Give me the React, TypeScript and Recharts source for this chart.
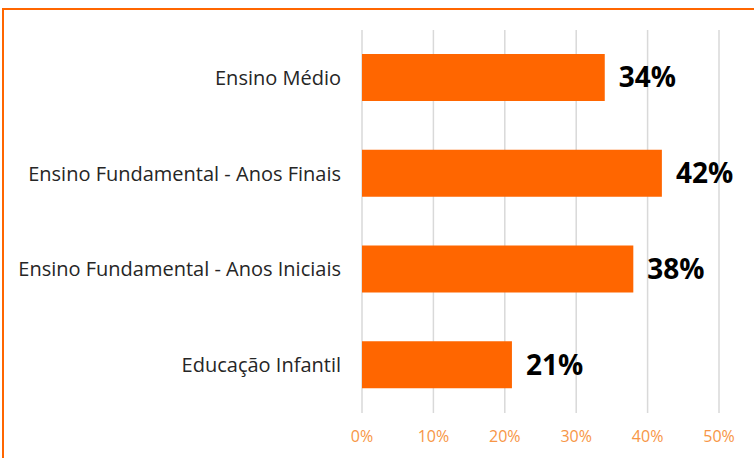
import { BarChart, Bar, XAxis, YAxis, CartesianGrid, LabelList } from "recharts";

// níveis de ensino (de cima para baixo)
const categories = [
  "Ensino Médio",
  "Ensino Fundamental - Anos Finais",
  "Ensino Fundamental - Anos Iniciais",
  "Educação Infantil",
];
const percents = [34, 42, 38, 21];
const xTicks = [0, 10, 20, 30, 40, 50];

const ORANGE = "#FF6600";
const FONT = "'Open Sans', sans-serif";

const data = categories.map((name, i) => ({ name, value: percents[i] }));

export default function App() {
  return (
    <div style={{ position: "absolute", left: 0, top: 0, width: 754, height: 458, overflow: "hidden", background: "#fff" }}>
      <div
        style={{
          position: "absolute",
          left: 2,
          top: 8,
          width: 800,
          height: 500,
          border: `2px solid ${ORANGE}`,
        }}
      />
      <div style={{ position: "absolute", left: 0, top: 0 }}>
        <BarChart
          width={754}
          height={458}
          data={data}
          layout="vertical"
          margin={{ top: 30, right: 35, left: 0, bottom: 10 }}
          barSize={47}
        >
          <CartesianGrid horizontal={false} stroke="#D9D9D9" strokeWidth={1.5} />
          <XAxis
            type="number"
            domain={[0, 50]}
            ticks={xTicks}
            tickFormatter={(v) => `${v}%`}
            axisLine={false}
            tickLine={false}
            tickMargin={12}
            height={35}
            tick={{ fill: "#F79646", fontSize: 16, fontFamily: FONT }}
          />
          <YAxis
            type="category"
            dataKey="name"
            width={362}
            axisLine={false}
            tickLine={false}
            tickMargin={15}
            tick={{ fill: "#262626", fontSize: 20, fontFamily: FONT }}
          />
          <Bar dataKey="value" fill={ORANGE} isAnimationActive={false}>
            <LabelList
              dataKey="value"
              position="right"
              offset={14}
              formatter={(v: number) => `${v}%`}
              style={{ fill: "#000", fontSize: 28, fontWeight: "bold", fontFamily: FONT }}
            />
          </Bar>
        </BarChart>
      </div>
    </div>
  );
}
